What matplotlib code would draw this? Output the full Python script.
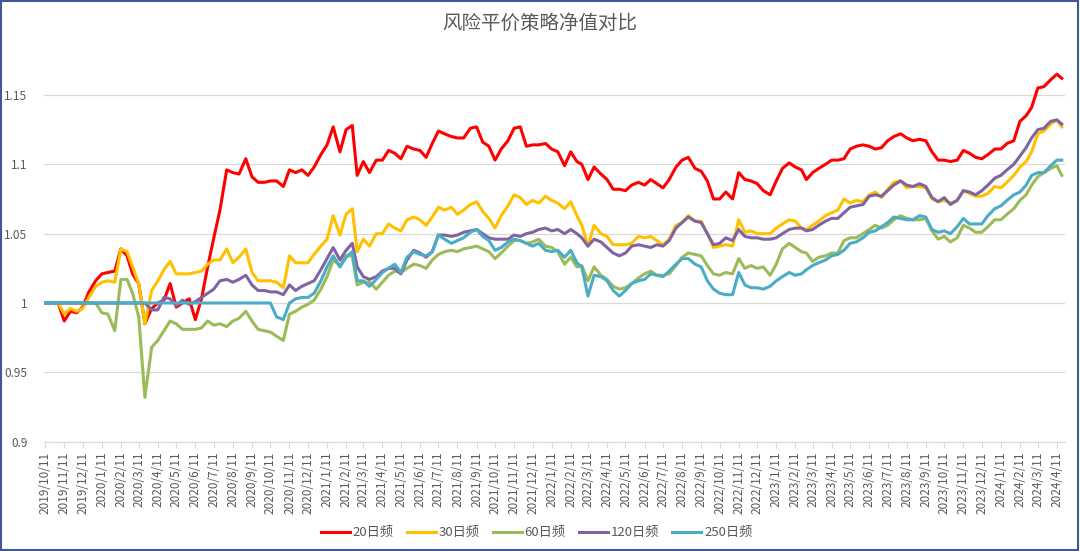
import pandas as pd
import matplotlib
matplotlib.use('Agg')
import matplotlib.pyplot as plt
from matplotlib.patches import Rectangle
from matplotlib.ticker import FuncFormatter

plt.rcParams['font.family'] = ['Noto Sans CJK SC', 'DejaVu Sans']

# date grid: the 11th, 21st and 1st of every month, last point 2024/4/19
months = pd.period_range('2019-10', '2024-04', freq='M')
dates = []
for m in months:
    s = m.start_time
    dates += [s + pd.Timedelta(days=10), s + pd.Timedelta(days=20), (m + 1).start_time]
dates = dates[:163] + [pd.Timestamp('2024-04-19')]

tick_dates = [m.start_time + pd.Timedelta(days=10) for m in months]
tick_labels = [f"{d.year}/{d.month}/{d.day}" for d in tick_dates]

names = ['20日频', '30日频', '60日频', '120日频', '250日频']
colors = ['#FF0000', '#FFC000', '#9BBB59', '#8064A2', '#4BACC6']

nav_20 = [
    1.000, 1.000, 1.000, 0.987, 0.994, 0.993, 0.997, 1.008, 1.016, 1.021, 1.022, 1.023,
    1.039, 1.034, 1.021, 1.014, 0.985, 0.996, 1.000, 1.002, 1.014, 0.997, 1.000, 1.003,
    0.988, 1.003, 1.026, 1.047, 1.067, 1.096, 1.094, 1.093, 1.104, 1.091, 1.087, 1.087,
    1.088, 1.088, 1.084, 1.096, 1.094, 1.096, 1.092, 1.098, 1.107, 1.114, 1.127, 1.109,
    1.125, 1.128, 1.092, 1.102, 1.094, 1.103, 1.103, 1.110, 1.108, 1.104, 1.113, 1.111,
    1.110, 1.105, 1.115, 1.124, 1.122, 1.120, 1.119, 1.119, 1.126, 1.127, 1.116, 1.113,
    1.103, 1.111, 1.117, 1.126, 1.127, 1.113, 1.114, 1.114, 1.115, 1.111, 1.109, 1.099,
    1.109, 1.102, 1.100, 1.089, 1.098, 1.093, 1.089, 1.082, 1.082, 1.081, 1.085, 1.087,
    1.085, 1.089, 1.086, 1.083, 1.089, 1.098, 1.103, 1.105, 1.097, 1.095, 1.088, 1.075,
    1.075, 1.080, 1.075, 1.094, 1.089, 1.088, 1.086, 1.081, 1.078, 1.088, 1.097, 1.101,
    1.098, 1.096, 1.089, 1.094, 1.097, 1.100, 1.103, 1.103, 1.104, 1.111, 1.113, 1.114,
    1.113, 1.111, 1.112, 1.117, 1.120, 1.122, 1.119, 1.117, 1.118, 1.117, 1.109, 1.103,
    1.103, 1.102, 1.103, 1.110, 1.108, 1.105, 1.104, 1.107, 1.111, 1.111, 1.115, 1.117,
    1.131, 1.135, 1.141, 1.155, 1.156, 1.161, 1.165, 1.162,
]

nav_30 = [
    1.000, 1.000, 1.000, 0.992, 0.996, 0.994, 0.996, 1.004, 1.012, 1.015, 1.016, 1.015,
    1.039, 1.037, 1.026, 1.014, 0.985, 1.009, 1.016, 1.024, 1.030, 1.021, 1.021, 1.021,
    1.022, 1.023, 1.028, 1.031, 1.031, 1.039, 1.029, 1.033, 1.039, 1.022, 1.016, 1.016,
    1.016, 1.015, 1.011, 1.034, 1.029, 1.029, 1.029, 1.035, 1.041, 1.046, 1.063, 1.049,
    1.064, 1.068, 1.037, 1.046, 1.041, 1.050, 1.050, 1.057, 1.054, 1.052, 1.060, 1.062,
    1.060, 1.056, 1.062, 1.069, 1.067, 1.069, 1.064, 1.067, 1.071, 1.073, 1.066, 1.061,
    1.054, 1.063, 1.070, 1.078, 1.076, 1.071, 1.074, 1.072, 1.077, 1.074, 1.072, 1.068,
    1.073, 1.063, 1.056, 1.041, 1.056, 1.050, 1.048, 1.042, 1.042, 1.042, 1.043, 1.048,
    1.047, 1.048, 1.045, 1.042, 1.046, 1.056, 1.058, 1.063, 1.059, 1.059, 1.050, 1.040,
    1.041, 1.042, 1.041, 1.060, 1.051, 1.052, 1.050, 1.050, 1.050, 1.054, 1.057, 1.060,
    1.059, 1.054, 1.053, 1.056, 1.059, 1.063, 1.065, 1.067, 1.075, 1.072, 1.074, 1.073,
    1.078, 1.080, 1.076, 1.082, 1.087, 1.088, 1.083, 1.084, 1.084, 1.083, 1.075, 1.073,
    1.074, 1.072, 1.074, 1.081, 1.079, 1.077, 1.077, 1.079, 1.084, 1.083, 1.087, 1.092,
    1.098, 1.102, 1.109, 1.122, 1.124, 1.129, 1.132, 1.127,
]

nav_60 = [
    1.000, 1.000, 1.000, 1.000, 1.000, 1.000, 1.000, 1.000, 1.000, 0.993, 0.992, 0.980,
    1.017, 1.017, 1.007, 0.990, 0.932, 0.968, 0.973, 0.980, 0.987, 0.985, 0.981, 0.981,
    0.981, 0.982, 0.987, 0.984, 0.985, 0.983, 0.987, 0.989, 0.994, 0.987, 0.981, 0.980,
    0.979, 0.976, 0.973, 0.992, 0.994, 0.997, 0.999, 1.002, 1.010, 1.019, 1.031, 1.027,
    1.034, 1.034, 1.013, 1.015, 1.015, 1.010, 1.015, 1.020, 1.023, 1.022, 1.025, 1.028,
    1.027, 1.025, 1.031, 1.035, 1.037, 1.038, 1.037, 1.039, 1.040, 1.041, 1.039, 1.037,
    1.032, 1.036, 1.041, 1.045, 1.045, 1.043, 1.044, 1.046, 1.041, 1.040, 1.037, 1.028,
    1.033, 1.026, 1.027, 1.016, 1.026, 1.020, 1.017, 1.012, 1.010, 1.011, 1.014, 1.018,
    1.021, 1.023, 1.020, 1.020, 1.021, 1.027, 1.033, 1.036, 1.035, 1.034, 1.027, 1.021,
    1.020, 1.022, 1.021, 1.032, 1.025, 1.027, 1.025, 1.026, 1.020, 1.028, 1.039, 1.043,
    1.040, 1.037, 1.036, 1.030, 1.033, 1.034, 1.036, 1.036, 1.045, 1.047, 1.047, 1.050,
    1.053, 1.056, 1.054, 1.056, 1.060, 1.063, 1.061, 1.060, 1.060, 1.061, 1.052, 1.046,
    1.048, 1.044, 1.047, 1.056, 1.054, 1.051, 1.051, 1.055, 1.060, 1.060, 1.064, 1.068,
    1.074, 1.078, 1.085, 1.091, 1.094, 1.097, 1.099, 1.092,
]

nav_120 = [
    1.000, 1.000, 1.000, 1.000, 1.000, 1.000, 1.000, 1.000, 1.000, 1.000, 1.000, 1.000,
    1.000, 1.000, 1.000, 1.000, 1.000, 0.995, 0.995, 1.004, 1.003, 0.998, 1.002, 0.999,
    1.001, 1.004, 1.007, 1.010, 1.016, 1.017, 1.015, 1.017, 1.020, 1.013, 1.009, 1.009,
    1.008, 1.008, 1.006, 1.013, 1.009, 1.012, 1.014, 1.016, 1.024, 1.032, 1.040, 1.031,
    1.038, 1.043, 1.026, 1.019, 1.017, 1.019, 1.023, 1.025, 1.025, 1.021, 1.031, 1.038,
    1.036, 1.033, 1.037, 1.049, 1.049, 1.048, 1.049, 1.051, 1.052, 1.053, 1.050, 1.047,
    1.046, 1.046, 1.046, 1.049, 1.048, 1.050, 1.051, 1.053, 1.054, 1.052, 1.053, 1.050,
    1.053, 1.050, 1.047, 1.041, 1.046, 1.044, 1.040, 1.036, 1.034, 1.036, 1.041, 1.042,
    1.041, 1.040, 1.042, 1.041, 1.045, 1.054, 1.058, 1.062, 1.059, 1.058, 1.050, 1.042,
    1.043, 1.047, 1.045, 1.053, 1.048, 1.047, 1.047, 1.046, 1.046, 1.047, 1.050, 1.053,
    1.054, 1.054, 1.052, 1.053, 1.056, 1.059, 1.061, 1.061, 1.065, 1.069, 1.070, 1.071,
    1.077, 1.078, 1.077, 1.081, 1.085, 1.088, 1.085, 1.084, 1.086, 1.084, 1.076, 1.073,
    1.076, 1.071, 1.074, 1.081, 1.080, 1.078, 1.081, 1.085, 1.090, 1.092, 1.096, 1.100,
    1.106, 1.112, 1.119, 1.125, 1.126, 1.131, 1.132, 1.129,
]

nav_250 = [
    1.000, 1.000, 1.000, 1.000, 1.000, 1.000, 1.000, 1.000, 1.000, 1.000, 1.000, 1.000,
    1.000, 1.000, 1.000, 1.000, 1.000, 1.000, 1.000, 1.000, 1.000, 1.000, 1.000, 1.000,
    1.000, 1.000, 1.000, 1.000, 1.000, 1.000, 1.000, 1.000, 1.000, 1.000, 1.000, 1.000,
    1.000, 0.990, 0.988, 1.000, 1.003, 1.004, 1.004, 1.007, 1.016, 1.026, 1.034, 1.026,
    1.033, 1.037, 1.016, 1.016, 1.012, 1.017, 1.022, 1.025, 1.028, 1.022, 1.033, 1.037,
    1.035, 1.034, 1.037, 1.049, 1.046, 1.043, 1.045, 1.047, 1.051, 1.053, 1.048, 1.045,
    1.038, 1.040, 1.044, 1.046, 1.045, 1.043, 1.041, 1.043, 1.038, 1.037, 1.038, 1.033,
    1.038, 1.029, 1.026, 1.005, 1.020, 1.019, 1.016, 1.009, 1.005, 1.009, 1.014, 1.016,
    1.017, 1.021, 1.020, 1.019, 1.023, 1.028, 1.032, 1.032, 1.028, 1.026, 1.016, 1.010,
    1.007, 1.006, 1.006, 1.022, 1.013, 1.011, 1.011, 1.010, 1.012, 1.016, 1.019, 1.022,
    1.020, 1.021, 1.024, 1.027, 1.029, 1.031, 1.034, 1.035, 1.038, 1.043, 1.044, 1.047,
    1.051, 1.052, 1.055, 1.058, 1.062, 1.061, 1.060, 1.060, 1.063, 1.062, 1.053, 1.051,
    1.052, 1.050, 1.055, 1.061, 1.057, 1.057, 1.057, 1.063, 1.068, 1.070, 1.074, 1.078,
    1.080, 1.085, 1.092, 1.094, 1.094, 1.099, 1.103, 1.103,
]

series = [nav_20, nav_30, nav_60, nav_120, nav_250]

fig = plt.figure(figsize=(10.8, 5.51), dpi=100)
ax = fig.add_axes([0.0407, 0.1984, 0.9453, 0.6922])

for vals, name, c in zip(series, names, colors):
    ax.plot(dates, vals, color=c, lw=2.2, label=name, solid_joinstyle='round')

ax.set_ylim(0.9, 1.175)
ax.set_yticks([0.9, 0.95, 1.0, 1.05, 1.1, 1.15])
ax.yaxis.set_major_formatter(FuncFormatter(lambda v, p: f"{v:g}"))
ax.set_xlim(pd.Timestamp('2019-10-09'), pd.Timestamp('2024-04-24'))
ax.set_xticks(tick_dates)
ax.set_xticklabels(tick_labels, rotation=90)

ax.grid(axis='y', color='#D9D9D9', lw=0.9)
ax.set_axisbelow(True)
for side in ['top', 'right', 'left']:
    ax.spines[side].set_visible(False)
ax.spines['bottom'].set_color('#D9D9D9')
ax.tick_params(axis='y', length=0, pad=12, labelsize=8.5, labelcolor='#595959')
ax.tick_params(axis='x', length=4, color='#D9D9D9', pad=3, labelsize=8.5, labelcolor='#595959')

fig.text(0.5, 0.958, '风险平价策略净值对比', ha='center', va='center',
         fontsize=14, color='#595959')

fig.legend(loc='center', bbox_to_anchor=(0.497, 0.033), ncol=5, frameon=False,
           fontsize=9.5, handlelength=2.2, handletextpad=0.2, columnspacing=1.0,
           labelcolor='#595959')

fig.patches.append(Rectangle((0.001, 0.002), 0.997, 0.996, transform=fig.transFigure,
                             fill=False, edgecolor='#3D5A92', lw=1.5))

fig.savefig('out.png', dpi=100, facecolor='white')
